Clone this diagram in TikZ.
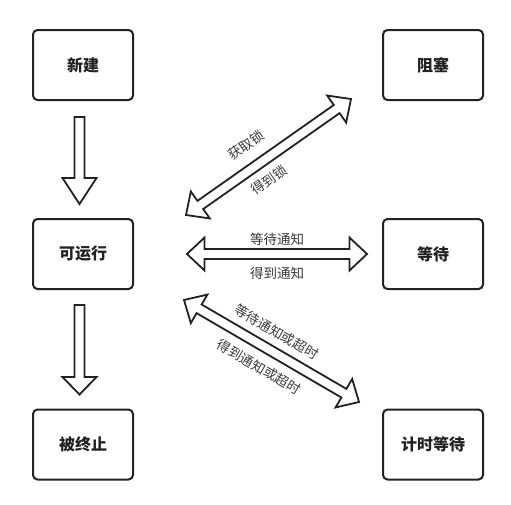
\documentclass[tikz,border=0pt]{standalone}
\usepackage{fontspec}
\setmainfont{Noto Sans CJK SC}
\usetikzlibrary{calc}
\definecolor{ink}{HTML}{222222}
\definecolor{labink}{HTML}{3A3A3A}
\tikzset{
  box/.style={draw=ink, line width=2pt, rounded corners=4.5pt, minimum width=100pt, minimum height=70pt,
    font=\fontsize{16}{18}\selectfont\bfseries, text=ink},
  lab/.style={font=\fontsize{13.5}{15}\selectfont, text=labink, inner sep=0pt},
  hollow/.style={draw=ink, line width=1.8pt, fill=white, line join=miter},
  dblarrow/.style={to path={let \p1=($(\tikztotarget)-(\tikztostart)$), \n1={atan2(\y1,\x1)},
      \n2={veclen(\x1,\y1)-17.5}, \n3={\n1+90}, \n4={\n1-90} in
      -- ($(\tikztostart)+(\n1:17.5pt)+(\n3:16.5pt)$)
      -- ($(\tikztostart)+(\n1:17.5pt)+(\n3:5pt)$)
      -- ($(\tikztostart)+(\n1:\n2)+(\n3:5pt)$)
      -- ($(\tikztostart)+(\n1:\n2)+(\n3:16.5pt)$)
      -- (\tikztotarget)
      -- ($(\tikztostart)+(\n1:\n2)+(\n4:16.5pt)$)
      -- ($(\tikztostart)+(\n1:\n2)+(\n4:5pt)$)
      -- ($(\tikztostart)+(\n1:17.5pt)+(\n4:5pt)$)
      -- ($(\tikztostart)+(\n1:17.5pt)+(\n4:16.5pt)$)
      -- cycle}},
  sglarrow/.style={to path={let \p1=($(\tikztotarget)-(\tikztostart)$), \n1={atan2(\y1,\x1)},
      \n2={veclen(\x1,\y1)-#1}, \n3={\n1+90}, \n4={\n1-90} in
      ($(\tikztostart)+(\n3:5pt)$)
      -- ($(\tikztostart)+(\n1:\n2)+(\n3:5pt)$)
      -- ($(\tikztostart)+(\n1:\n2)+(\n3:17pt)$)
      -- (\tikztotarget)
      -- ($(\tikztostart)+(\n1:\n2)+(\n4:17pt)$)
      -- ($(\tikztostart)+(\n1:\n2)+(\n4:5pt)$)
      -- ($(\tikztostart)+(\n4:5pt)$)
      -- cycle}},
}
\begin{document}
\begin{tikzpicture}[x=1pt, y=-1pt]
\fill[white] (0,0) rectangle (511,504);
\useasboundingbox (0,0) rectangle (511,504);

% state boxes
\node[box] (new)   at (83,65)    {新建};
\node[box] (run)   at (83,254)   {可运行};
\node[box] (term)  at (83,444.5) {被终止};
\node[box] (block) at (433,65)   {阻塞};
\node[box] (wait)  at (433,254)  {等待};
\node[box] (twait) at (433,444.5){计时等待};

% connector end points
\coordinate (a1s) at ($(new.south)+(-3.5,16)$);
\coordinate (a1e) at ($(run.north)+(-3.5,-14)$);
\coordinate (a2s) at ($(run.south)+(-3.5,15)$);
\coordinate (a2e) at ($(term.north)+(-3.5,-14)$);
\coordinate (hL) at (187,254);
\coordinate (hR) at (367,254);
\coordinate (uL) at (186,215);
\coordinate (uR) at (351,99);
\coordinate (dL) at (184,300);
\coordinate (dR) at (359,402);

% hollow arrows
\draw[hollow] (a1s) to[sglarrow=26] (a1e);
\draw[hollow] (a2s) to[sglarrow=17.5] (a2e);
\draw[hollow] (hL) to[dblarrow] (hR);
\draw[hollow] (uL) to[dblarrow] (uR);
\draw[hollow] (dL) to[dblarrow] (dR);

% labels
\node[lab, rotate=35]  (l1) at (246.5,145) {获取锁};
\node[lab, rotate=35]  (l2) at (269,180)   {得到锁};
\node[lab]             (l3) at (277,239)   {等待通知};
\node[lab]             (l4) at (277,273)   {得到通知};
\node[lab, rotate=-30] (l5) at (276.5,332) {等待通知或超时};
\node[lab, rotate=-30] (l6) at (259,367)   {得到通知或超时};
\end{tikzpicture}
\end{document}
